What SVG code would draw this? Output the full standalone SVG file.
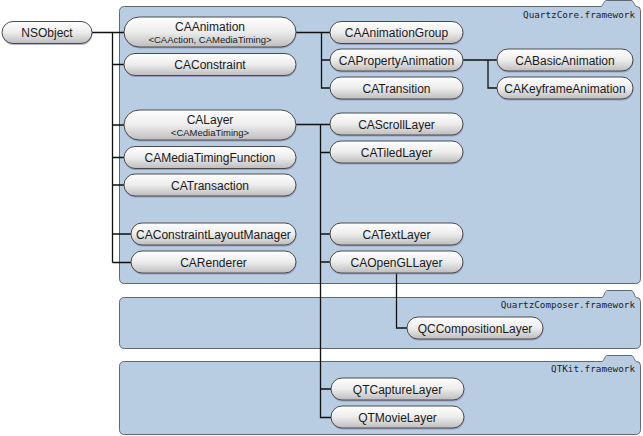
<svg xmlns="http://www.w3.org/2000/svg" width="643" height="436" viewBox="0 0 643 436">
<defs>
<linearGradient id="pg" x1="0" y1="0" x2="0" y2="1">
<stop offset="0" stop-color="#ffffff"/>
<stop offset="0.5" stop-color="#ececec"/>
<stop offset="1" stop-color="#bdbdbd"/>
</linearGradient>
<style>
.fw{fill:#b9cde2;stroke:#5f6770;stroke-width:1}
.fwl{font-family:"DejaVu Sans Mono",monospace;font-size:9.3px;fill:#222;text-anchor:end}
.sh{fill:#7e78a8;opacity:0.55}
.p{fill:url(#pg);stroke:#4a4a4a;stroke-width:1}
.t{font-family:"Liberation Sans",Arial,sans-serif;font-size:12px;fill:#1a1a1a;text-anchor:middle}
.s{font-family:"Liberation Sans",Arial,sans-serif;font-size:9.5px;fill:#1a1a1a;text-anchor:middle}
.c{fill:none;stroke:#111;stroke-width:1.3}
</style>
</defs>
<g id="frameworks">
<path class="fw" d="M124.5,6.5 H601 C603,6.5 603.5,0.5 606.5,0.5 H631 C634,0.5 634.5,6.5 636.5,6.5 Q640.5,6.5 640.5,10.5 V278.5 Q640.5,283.5 635.5,283.5 H124.5 Q119.5,283.5 119.5,278.5 V11.5 Q119.5,6.5 124.5,6.5 Z"/>
<text class="fwl" x="635" y="18">QuartzCore.framework</text>
<path class="fw" d="M124.5,297.5 H602 C604,297.5 604.5,290.5 607.5,290.5 H631 C634,290.5 634.5,297.5 636.5,297.5 Q640.5,297.5 640.5,301.5 V343.5 Q640.5,348.5 635.5,348.5 H124.5 Q119.5,348.5 119.5,343.5 V302.5 Q119.5,297.5 124.5,297.5 Z"/>
<text class="fwl" x="635" y="308">QuartzComposer.framework</text>
<path class="fw" d="M124.5,361.5 H602 C604,361.5 604.5,355.5 607.5,355.5 H631 C634,355.5 634.5,361.5 636.5,361.5 Q640.5,361.5 640.5,365.5 V429.5 Q640.5,434.5 635.5,434.5 H124.5 Q119.5,434.5 119.5,429.5 V366.5 Q119.5,361.5 124.5,361.5 Z"/>
<text class="fwl" x="635" y="372">QTKit.framework</text>
</g>
<g id="connectors">
<path class="c" d="M92,32.5 H124 M112.5,32.5 V262.5 M112.5,64.5 H124 M112.5,125 H124 M112.5,157.5 H124 M112.5,185 H124 M112.5,234 H131 M112.5,262.5 H131"/>
<path class="c" d="M296,32.5 H330 M321.5,32.5 V88 H330 M321.5,60 H330"/>
<path class="c" d="M463,60 H497 M488,60 V88 H497"/>
<path class="c" d="M296,124.5 H330 M320.5,124.5 V417.5 H331 M320.5,152.5 H330 M320.5,234 H330 M320.5,262 H330 M320.5,389 H331"/>
<path class="c" d="M396.5,272 V328 H407"/>
</g>
<g id="NSObject"><rect class="sh" x="2.5" y="23" width="90" height="22" rx="11"/><rect class="p" x="2" y="21.5" width="90" height="22" rx="11"/><text class="t" x="47" y="37">NSObject</text></g>
<g id="CAAnimation"><rect class="sh" x="124.5" y="18.5" width="172" height="30" rx="15"/><rect class="p" x="124" y="17" width="172" height="30" rx="15"/><text class="t" x="210" y="31">CAAnimation</text><text class="s" x="210" y="43">&lt;CAAction, CAMediaTiming&gt;</text></g>
<g id="CAConstraint"><rect class="sh" x="124.5" y="55" width="172" height="22" rx="11"/><rect class="p" x="124" y="53.5" width="172" height="22" rx="11"/><text class="t" x="210" y="69">CAConstraint</text></g>
<g id="CALayer"><rect class="sh" x="124.5" y="111.5" width="172" height="30" rx="15"/><rect class="p" x="124" y="110" width="172" height="30" rx="15"/><text class="t" x="210" y="124">CALayer</text><text class="s" x="210" y="136">&lt;CAMediaTiming&gt;</text></g>
<g id="CAMediaTimingFunction"><rect class="sh" x="124.5" y="148" width="172" height="22" rx="11"/><rect class="p" x="124" y="146.5" width="172" height="22" rx="11"/><text class="t" x="210" y="162">CAMediaTimingFunction</text></g>
<g id="CATransaction"><rect class="sh" x="124.5" y="175.5" width="172" height="22" rx="11"/><rect class="p" x="124" y="174" width="172" height="22" rx="11"/><text class="t" x="210" y="189.5">CATransaction</text></g>
<g id="CAConstraintLayoutManager"><rect class="sh" x="131.5" y="224.5" width="165" height="22" rx="11"/><rect class="p" x="131" y="223" width="165" height="22" rx="11"/><text class="t" x="213.5" y="238.5">CAConstraintLayoutManager</text></g>
<g id="CARenderer"><rect class="sh" x="131.5" y="252.5" width="165" height="22" rx="11"/><rect class="p" x="131" y="251" width="165" height="22" rx="11"/><text class="t" x="213.5" y="266.5">CARenderer</text></g>
<g id="CAAnimationGroup"><rect class="sh" x="330.5" y="23" width="133" height="22" rx="11"/><rect class="p" x="330" y="21.5" width="133" height="22" rx="11"/><text class="t" x="396.5" y="37">CAAnimationGroup</text></g>
<g id="CAPropertyAnimation"><rect class="sh" x="330.5" y="50.5" width="133" height="22" rx="11"/><rect class="p" x="330" y="49" width="133" height="22" rx="11"/><text class="t" x="396.5" y="64.5">CAPropertyAnimation</text></g>
<g id="CATransition"><rect class="sh" x="330.5" y="78.5" width="133" height="22" rx="11"/><rect class="p" x="330" y="77" width="133" height="22" rx="11"/><text class="t" x="396.5" y="92.5">CATransition</text></g>
<g id="CABasicAnimation"><rect class="sh" x="497.5" y="50.5" width="136" height="22" rx="11"/><rect class="p" x="497" y="49" width="136" height="22" rx="11"/><text class="t" x="565" y="64.5">CABasicAnimation</text></g>
<g id="CAKeyframeAnimation"><rect class="sh" x="497.5" y="78.5" width="136" height="22" rx="11"/><rect class="p" x="497" y="77" width="136" height="22" rx="11"/><text class="t" x="565" y="92.5">CAKeyframeAnimation</text></g>
<g id="CAScrollLayer"><rect class="sh" x="330.5" y="114.5" width="133" height="22" rx="11"/><rect class="p" x="330" y="113" width="133" height="22" rx="11"/><text class="t" x="396.5" y="128.5">CAScrollLayer</text></g>
<g id="CATiledLayer"><rect class="sh" x="330.5" y="142.5" width="133" height="22" rx="11"/><rect class="p" x="330" y="141" width="133" height="22" rx="11"/><text class="t" x="396.5" y="156.5">CATiledLayer</text></g>
<g id="CATextLayer"><rect class="sh" x="330.5" y="224.5" width="133" height="22" rx="11"/><rect class="p" x="330" y="223" width="133" height="22" rx="11"/><text class="t" x="396.5" y="238.5">CATextLayer</text></g>
<g id="CAOpenGLLayer"><rect class="sh" x="330.5" y="252.5" width="133" height="22" rx="11"/><rect class="p" x="330" y="251" width="133" height="22" rx="11"/><text class="t" x="396.5" y="266.5">CAOpenGLLayer</text></g>
<g id="QCCompositionLayer"><rect class="sh" x="407.5" y="318.5" width="136" height="22" rx="11"/><rect class="p" x="407" y="317" width="136" height="22" rx="11"/><text class="t" x="475" y="332.5">QCCompositionLayer</text></g>
<g id="QTCaptureLayer"><rect class="sh" x="331.5" y="379.5" width="133" height="22" rx="11"/><rect class="p" x="331" y="378" width="133" height="22" rx="11"/><text class="t" x="397.5" y="393.5">QTCaptureLayer</text></g>
<g id="QTMovieLayer"><rect class="sh" x="331.5" y="407.5" width="133" height="22" rx="11"/><rect class="p" x="331" y="406" width="133" height="22" rx="11"/><text class="t" x="397.5" y="421.5">QTMovieLayer</text></g>
</svg>
